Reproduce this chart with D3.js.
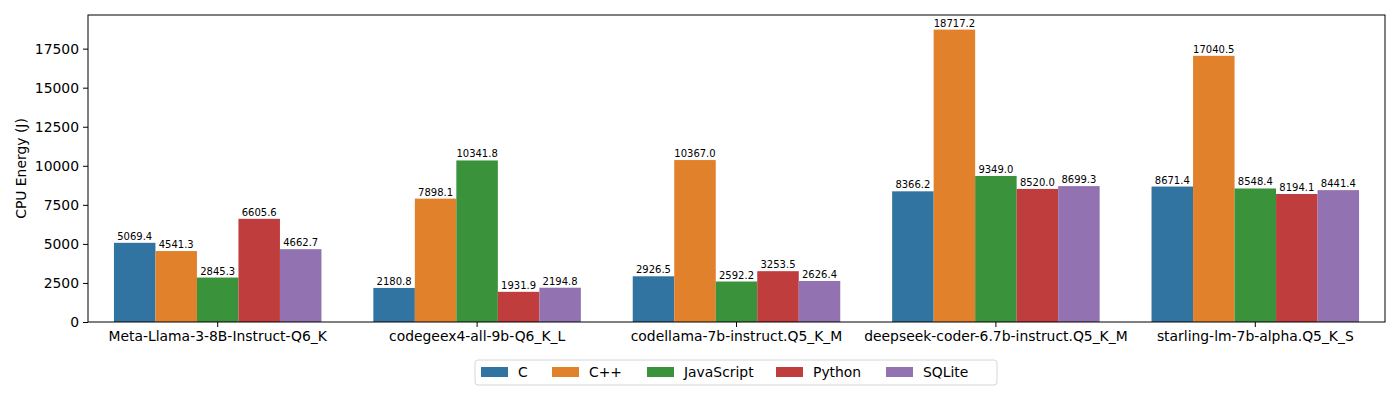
<!DOCTYPE html>
<html><head><meta charset="utf-8">
<script src="https://cdn.jsdelivr.net/npm/d3@7"></script>
<style>body{margin:0;background:#fff}svg{display:block;font-family:"DejaVu Sans",sans-serif}</style>
</head><body>
<svg id="chart" width="1400" height="400"></svg>
<script>
const categories = ["Meta-Llama-3-8B-Instruct-Q6_K","codegeex4-all-9b-Q6_K_L","codellama-7b-instruct.Q5_K_M","deepseek-coder-6.7b-instruct.Q5_K_M","starling-lm-7b-alpha.Q5_K_S"];
const seriesNames = ["C","C++","JavaScript","Python","SQLite"];
const valuesC = [5069.4, 2180.8, 2926.5, 8366.2, 8671.4];
const valuesCpp = [4541.3, 7898.1, 10367.0, 18717.2, 17040.5];
const valuesJS = [2845.3, 10341.8, 2592.2, 9349.0, 8548.4];
const valuesPython = [6605.6, 1931.9, 3253.5, 8520.0, 8194.1];
const valuesSQLite = [4662.7, 2194.8, 2626.4, 8699.3, 8441.4];
const yTicks = [0,2500,5000,7500,10000,12500,15000,17500];
const colors = ["#3274a1","#e1812c","#3a923a","#c03d3e","#9372b2"];
const series = [valuesC, valuesCpp, valuesJS, valuesPython, valuesSQLite];

const svg = d3.select("#chart");
const m = {left:88, right:1385, top:15, bottom:322};
const maxV = d3.max(series.flat());
const y = d3.scaleLinear().domain([0, maxV*1.05]).range([m.bottom, m.top]);
const x0 = d3.scaleBand().domain(categories).range([m.left, m.right]).paddingInner(0.2).paddingOuter(0.1);
const x1 = d3.scaleBand().domain(seriesNames).range([0, x0.bandwidth()]);
const FS = "13.9px";

// bars
seriesNames.forEach((s, si) => {
  const g = svg.append("g");
  categories.forEach((c, ci) => {
    const v = series[si][ci];
    g.append("rect").attr("x", x0(c)+x1(s)).attr("y", y(v))
      .attr("width", x1.bandwidth()).attr("height", y(0)-y(v)).attr("fill", colors[si]);
    g.append("text").attr("x", x0(c)+x1(s)+x1.bandwidth()/2).attr("y", y(v)-3)
      .attr("text-anchor","middle").attr("font-size","10px").attr("fill","#000").text(v.toFixed(1));
  });
});

// axes
const yAxis = d3.axisLeft(y).tickValues(yTicks).tickSize(5).tickPadding(4).tickFormat(d3.format("d"));
const ya = svg.append("g").attr("transform",`translate(${m.left},0)`).call(yAxis);
ya.select(".domain").remove();
ya.selectAll("text").attr("font-size",FS).attr("fill","#000").attr("font-family","DejaVu Sans");
ya.selectAll("line").attr("stroke","#000");

const xAxis = d3.axisBottom(x0).tickSize(5).tickPadding(4);
const xa = svg.append("g").attr("transform",`translate(0,${m.bottom})`).call(xAxis);
xa.select(".domain").remove();
xa.selectAll("text").attr("font-size",FS).attr("fill","#000").attr("font-family","DejaVu Sans");
xa.selectAll("line").attr("stroke","#000");

svg.append("rect").attr("x",m.left).attr("y",m.top).attr("width",m.right-m.left).attr("height",m.bottom-m.top)
  .attr("fill","none").attr("stroke","#000").attr("stroke-width",1);

svg.append("text").attr("transform",`translate(26,${(m.top+m.bottom)/2}) rotate(-90)`)
  .attr("text-anchor","middle").attr("font-size",FS).text("CPU Energy (J)");

// legend
const lg = svg.append("g");
const entryX = [481, 552, 647, 776, 886];
lg.append("rect").attr("x",475).attr("y",360).attr("width",522).attr("height",25).attr("rx",3)
  .attr("fill","#fff").attr("stroke","#d6d6d6");
seriesNames.forEach((s, i) => {
  lg.append("rect").attr("x",entryX[i]).attr("y",367).attr("width",27).attr("height",10).attr("fill",colors[i]);
  lg.append("text").attr("x",entryX[i]+37).attr("y",377).attr("font-size",FS).text(s);
});
</script>
</body></html>
